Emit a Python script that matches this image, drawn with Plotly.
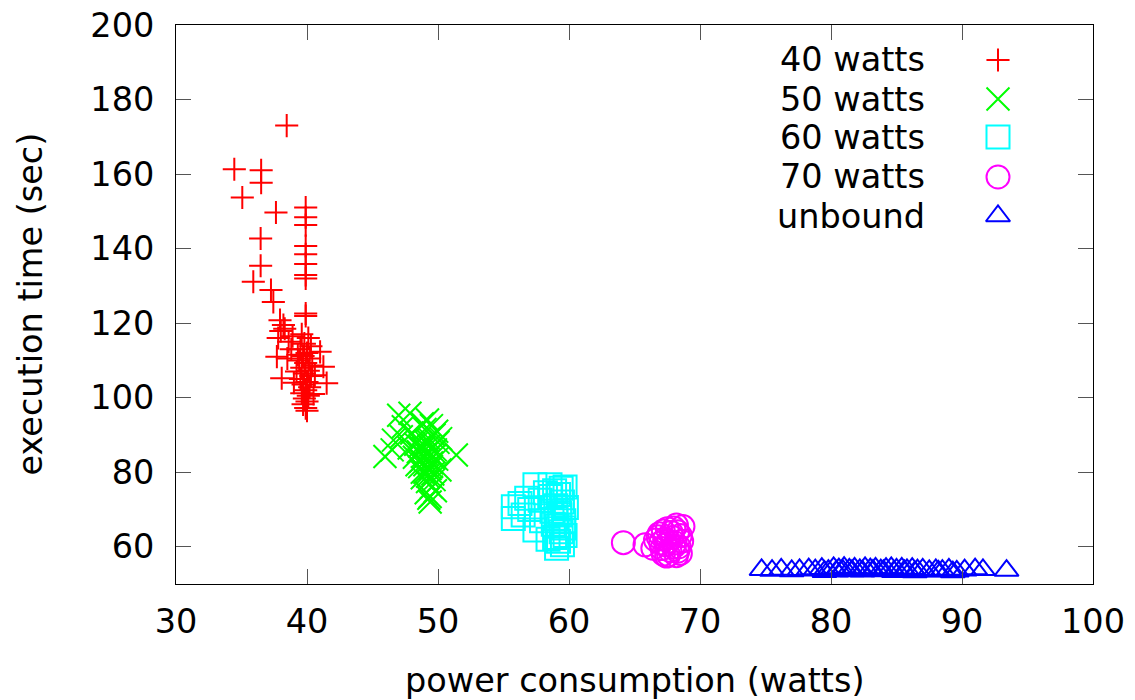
import plotly.graph_objects as go

series_names = ["40 watts", "50 watts", "60 watts", "70 watts", "unbound"]
colors = ["#ff0000", "#00ff00", "#00ffff", "#ff00ff", "#0000ff"]
symbols = ["cross-thin-open", "x-thin-open", "square-open", "circle-open", "triangle-up-open"]

x40 = [38.45, 34.45, 36.5, 36.5, 35.06, 37.63, 36.46, 36.46, 35.9, 37.25, 37.43, 37.94, 38.0, 37.8, 37.7, 38.07, 41.0, 41.5, 41.25,
       39.9, 39.9, 39.9, 39.9, 39.9, 39.9, 39.9, 39.9, 39.9, 39.9,
       39.6, 40.1, 39.8, 40.3, 39.5, 40.0, 39.7, 40.2, 39.4, 39.9, 40.4, 39.6, 40.1, 39.8, 40.3, 39.5, 40.0, 39.7, 40.2, 39.9,
       39.6, 40.1, 39.8, 40.0, 39.7, 39.9, 40.0, 38.6, 38.3, 38.8, 38.5, 39.2, 39.0, 38.2, 38.9, 39.3, 40.6, 40.5]
y40 = [173, 161.3, 161, 157.7, 153.7, 149.7, 142.7, 135.4, 131.1, 128.9, 125.7, 120.8, 117.9, 116, 111, 105.2, 112.3, 103.9, 108.3,
       151, 148.4, 146.3, 140.7, 138.5, 135.9, 132.9, 132.0, 122.6, 121.9,
       117, 116, 114.5, 113.8, 113, 112, 111.2, 110.5, 110, 109.3, 108.6, 108, 107.2, 106.5, 105.8, 105, 104.2, 103.5, 102.8, 102,
       101.2, 100.5, 99.8, 99, 98.2, 97.2, 96.5, 115, 118.5, 113, 110.5, 107, 104, 119.5, 116.5, 111.5, 106, 101]

x50 = [45.95, 47.0, 47.86, 47.35, 46.6, 46.5, 51.4, 49.4, 50.15, 48.6, 47.2, 48.0, 48.3, 48.8, 49.0, 49.2, 49.5, 49.7, 49.9, 50.0,
       48.9, 49.1, 49.3, 49.6, 49.8, 48.7, 49.0, 49.4, 49.6, 49.9, 48.5, 48.8, 49.2, 49.5, 49.7, 49.1, 49.3, 49.8, 49.0, 49.5,
       48.2, 47.8, 50.2, 49.2, 49.4, 48.4, 48.9, 49.3, 49.7, 48.6, 49.1, 49.5, 48.8, 49.2]
y50 = [84.2, 95.3, 95.8, 92.2, 88.6, 86.0, 84.6, 72.0, 80.6, 81.5, 89.5, 90.5, 87.5, 93.0, 91.5, 94.0, 92.5, 90.0, 91.0, 88.0,
       86.5, 85.0, 87.0, 84.0, 86.0, 83.0, 82.0, 81.0, 79.5, 83.5, 85.5, 78.5, 77.5, 76.0, 78.0, 74.5, 73.0, 75.0, 80.0, 82.5,
       84.0, 86.5, 89.0, 88.5, 73.5, 82.0, 84.5, 89.0, 85.5, 87.0, 88.0, 81.5, 80.0, 79.0]

x60 = [55.75, 55.75, 56.26, 56.77, 57.4, 58.55, 59.4, 59.05, 57.4, 56.5, 57.0, 57.8, 58.2, 58.6, 58.9, 59.2, 59.5, 59.7, 59.8,
       58.7, 59.0, 59.3, 59.6, 58.8, 59.1, 59.4, 59.7, 58.9, 59.2, 59.5, 59.0, 59.3, 59.6, 57.9, 58.4]
y60 = [70.7, 67.6, 71.6, 73.0, 76.6, 76.6, 75.7, 59.6, 64.5, 68.5, 70.0, 72.5, 74.5, 73.5, 75.0, 74.0, 72.0, 76.0, 70.5,
       69.5, 71.0, 68.5, 67.0, 66.0, 65.5, 64.0, 63.0, 62.5, 61.5, 60.5, 67.5, 69.0, 65.0, 67.0, 62.0]

x70 = [64.15, 65.8, 66.4, 66.8, 68.7, 68.2, 67.45, 66.9, 67.2, 67.5, 67.8, 68.0, 68.3, 68.5, 68.6, 67.0, 67.3, 67.6, 67.9,
       68.1, 68.4, 67.1, 67.4, 67.7, 68.0, 68.3, 68.5, 67.2, 67.6, 68.2, 66.6]
y70 = [61.1, 60.5, 59.6, 62.7, 65.4, 65.8, 57.5, 63.5, 64.2, 64.8, 63.8, 65.0, 64.0, 63.0, 61.5, 61.0, 62.0, 61.5, 62.5,
       61.0, 60.0, 59.5, 60.5, 59.0, 60.0, 58.8, 58.2, 58.0, 57.8, 57.6, 61.8]

xub = [74.7, 75.5, 76.2, 77.0, 77.6, 78.3, 78.8, 79.3, 79.8, 80.2, 80.6, 81.0, 81.4, 81.8, 82.2, 82.6, 83.0, 83.4, 83.8, 84.2,
       84.6, 85.0, 85.4, 85.8, 86.2, 86.6, 87.0, 87.5, 88.0, 88.5, 89.0, 89.6, 90.2, 91.0, 91.6, 93.4,
       80.4, 80.9, 81.6, 82.4, 83.2, 84.0, 84.8, 85.6, 79.5, 86.4, 88.2, 89.3]
yub = [53.8, 53.6, 53.9, 53.5, 53.8, 54.0, 53.7, 54.1, 53.6, 54.3, 54.0, 54.4, 53.9, 54.2, 53.8, 54.3, 54.0, 54.2, 53.7, 54.1,
       54.3, 53.9, 54.2, 53.8, 54.1, 53.7, 53.9, 53.5, 53.8, 53.6, 53.9, 53.4, 53.7, 54.0, 53.8, 53.6,
       53.4, 53.6, 53.5, 53.4, 53.6, 53.5, 53.3, 53.5, 53.3, 53.2, 53.4, 53.2]

x_ticks = [30, 40, 50, 60, 70, 80, 90, 100]
y_ticks = [60, 80, 100, 120, 140, 160, 180, 200]

xs = [x40, x50, x60, x70, xub]
ys = [y40, y50, y60, y70, yub]
sizes = [16.5, 23, 23, 23, 21]

FS = 33.5
font = dict(family="DejaVu Sans", size=FS, color="black")

fig = go.Figure()
for name, c, s, sz, xv, yv in zip(series_names, colors, symbols, sizes, xs, ys):
    fig.add_trace(go.Scatter(x=xv, y=yv, mode="markers", name=name, showlegend=False,
                             marker=dict(symbol=s, size=sz, color=c, line=dict(color=c, width=2))))

# gnuplot-style key: text on the left, sample symbol on the right
key_rows = [0.9374, 0.8676, 0.7996, 0.7281, 0.6583]
for name, c, s, sz, ky in zip(series_names, colors, symbols, sizes, key_rows):
    fig.add_trace(go.Scatter(x=[0.8964], y=[ky], mode="markers", xaxis="x2", yaxis="y2", showlegend=False,
                             hoverinfo="skip",
                             marker=dict(symbol=s, size=sz, color=c, line=dict(color=c, width=2))))
    fig.add_annotation(x=0.8195, y=ky, xref="paper", yref="paper", text=name, showarrow=False,
                       xanchor="right", yanchor="middle", font=font)

fig.add_annotation(x=0.5, y=-0.172, xref="paper", yref="paper", text="power consumption (watts)",
                   showarrow=False, xanchor="center", yanchor="middle", font=font)
fig.add_annotation(x=-0.1592, y=0.5, xref="paper", yref="paper", text="execution time (sec)",
                   showarrow=False, xanchor="center", yanchor="middle", textangle=-90, font=font)

fig.update_layout(
    width=1135, height=700,
    margin=dict(l=176, r=42, t=25, b=116, autoexpand=False),
    paper_bgcolor="white", plot_bgcolor="white",
    font=font,
    xaxis=dict(range=[30, 100], tickvals=x_ticks, showgrid=False, zeroline=False, automargin=False,
               showline=True, linecolor="black", linewidth=1, mirror="allticks",
               ticks="inside", ticklen=15, tickcolor="#555555", tickfont=font, ticklabelstandoff=8),
    yaxis=dict(range=[50, 200], tickvals=y_ticks, showgrid=False, zeroline=False, automargin=False,
               showline=True, linecolor="black", linewidth=1, mirror="allticks",
               ticks="inside", ticklen=15, tickcolor="#555555", tickfont=font, ticklabelstandoff=14),
    xaxis2=dict(range=[0, 1], overlaying="x", visible=False, domain=[0, 1]),
    yaxis2=dict(range=[0, 1], overlaying="y", visible=False, domain=[0, 1]),
)

fig.write_html("out.html")
